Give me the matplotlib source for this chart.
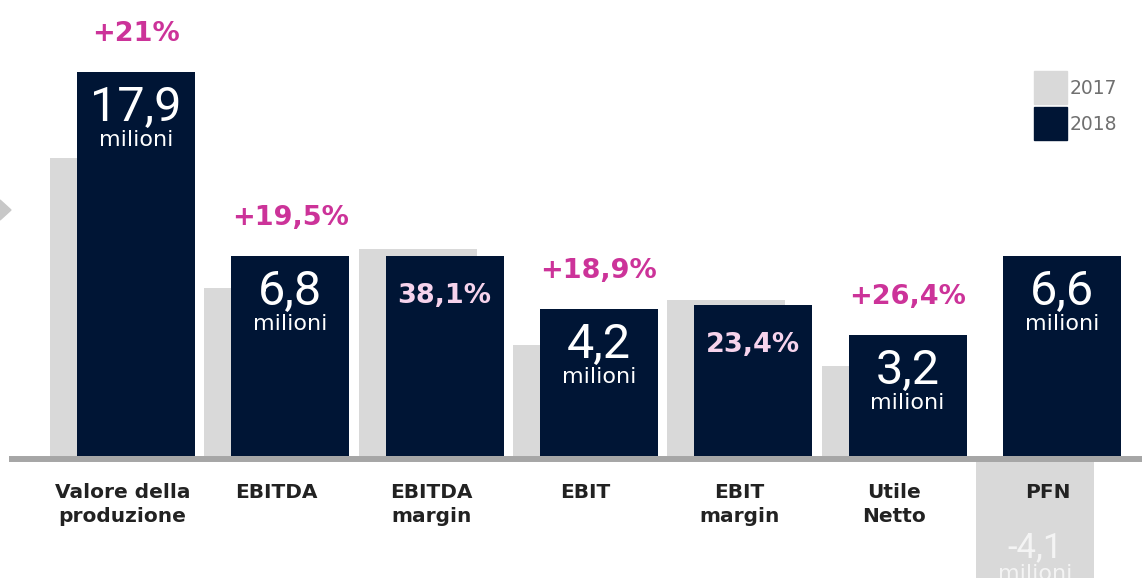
import numpy as np
import matplotlib
matplotlib.use('Agg')
import matplotlib.pyplot as plt
from matplotlib.patches import Rectangle, Polygon

# data ########################################################################
categories = ["Valore della\nproduzione", "EBITDA", "EBITDA\nmargin", "EBIT",
              "EBIT\nmargin", "Utile\nNetto", "PFN"]
# bar heights as drawn in the picture (arbitrary units, baseline = 0)
h2017 = [298, 168, 207, 111, 156, 90, -140]
h2018 = [384, 200, 200, 147, 151, 121, 200]
labels2018 = ["17,9", "6,8", "38,1%", "4,2", "23,4%", "3,2", "6,6"]
is_margin = [False, False, True, False, True, False, False]
growth = ["+21%", "+19,5%", None, "+18,9%", None, "+26,4%", None]
pfn2017_label = "-4,1"
###############################################################################

W, H = 1142, 578
GRAY = "#d9d9d9"
NAVY = "#001535"
MAGENTA = "#cc3399"
PINK = "#f6d3ec"
FONT = "DejaVu Sans"
NUMFONT = ['Roboto', FONT]

fig = plt.figure(figsize=(W / 100, H / 100), dpi=100)
ax = fig.add_axes([0, 0, 1, 1])
step = 154.3
ax.set_xlim(-122.5 / step, (W - 122.5) / step)
ax.set_ylim(-(H - 456), 456)
ax.axis('off')

x = np.arange(len(categories))
bw = 118 / step
off = 27 / step / 2

ax.bar(x - off, h2017, width=bw, color=GRAY, zorder=1)
ax.bar(x + off, h2018, width=bw, color=NAVY, zorder=2)

# baseline
ax.plot([(9 - 122.5) / step, (W - 122.5) / step], [-3, -3],
        color="#a6a6a6", lw=4.3, solid_capstyle='butt', zorder=3)

for i in range(len(categories)):
    top = h2018[i]
    xc = x[i] + off
    if is_margin[i]:
        ax.text(xc, top - 47, labels2018[i], ha='center', va='baseline',
                color=PINK, fontsize=19.5, fontweight='bold', family=FONT, zorder=4)
    else:
        ax.text(xc, top - 49, labels2018[i], ha='center', va='baseline',
                color='white', fontsize=35, fontweight='normal',
                family=NUMFONT, zorder=4)
        ax.text(xc, top - 74, "milioni", ha='center', va='baseline',
                color='white', fontsize=16, family=FONT, zorder=4)
    if growth[i]:
        ax.text(xc, top + 31, growth[i], ha='center', va='baseline',
                color=MAGENTA, fontsize=19.5, fontweight='bold', family=FONT, zorder=4)
    ax.text(x[i], -27, categories[i], ha='center', va='top', color="#222222",
            fontsize=14.5, fontweight='bold', family=FONT, linespacing=1.3, zorder=4)

# PFN 2017 value, inside the negative bar (cut by the lower edge, as in the original)
ax.text(x[6] - off, -101, pfn2017_label, ha='center', va='baseline',
        color="#f4f4f4", fontsize=25, fontweight='normal',
        family=NUMFONT, zorder=4)
ax.text(x[6] - off, -124, "milioni", ha='center', va='baseline',
        color="#f4f4f4", fontsize=16, family=FONT, zorder=4)


def px(xp, yp):
    return xp / W, 1 - yp / H


# legend
for (y0, col, txt) in [(71, GRAY, "2017"), (107, NAVY, "2018")]:
    ax.add_patch(Rectangle(px(1034, y0 + 33), 33 / W, 33 / H, color=col,
                           transform=ax.transAxes, zorder=5))
    ax.text(*px(1070, y0 + 17), txt, transform=ax.transAxes, ha='left',
            va='center', color="#707070", fontsize=13.5, family=FONT)

# small arrow on the left edge
ax.add_patch(Polygon([px(0, 200), px(11, 210), px(0, 220)], closed=True,
                     color="#c8c8c8", transform=ax.transAxes, zorder=5))

fig.savefig("out.png", dpi=100)
